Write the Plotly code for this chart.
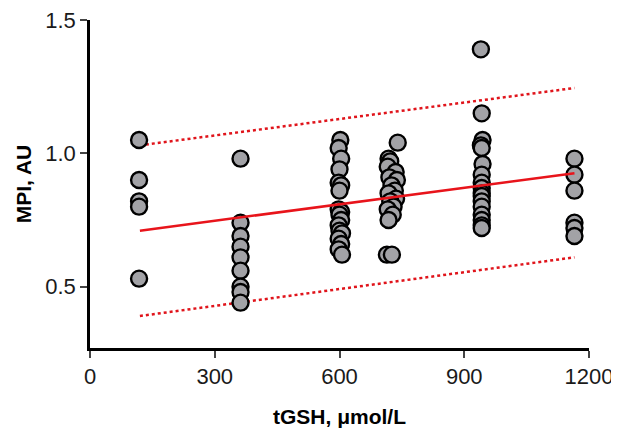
import plotly.graph_objects as go

# Data
x_c1 = [118, 118, 118, 118, 118]
y_c1 = [1.05, 0.90, 0.82, 0.80, 0.53]
x_c2 = [362, 362, 362, 362, 362, 362, 362, 362, 362]
y_c2 = [0.98, 0.74, 0.69, 0.65, 0.61, 0.56, 0.50, 0.48, 0.44]
x_c3 = [602, 598, 604, 600, 598, 604, 600, 598, 604, 600, 604, 598, 600, 606, 598, 604, 598, 606]
y_c3 = [1.05, 1.02, 0.98, 0.94, 0.89, 0.88, 0.86, 0.79, 0.78, 0.77, 0.75, 0.73, 0.71, 0.70, 0.68, 0.66, 0.64, 0.62]
x_c4 = [740, 718, 722, 716, 735, 720, 738, 725, 733, 718, 736, 722, 730, 716, 728, 718, 714, 726]
y_c4 = [1.04, 0.98, 0.97, 0.95, 0.93, 0.91, 0.90, 0.88, 0.86, 0.85, 0.83, 0.82, 0.80, 0.79, 0.77, 0.75, 0.62, 0.62]
x_c5 = [940, 942, 944, 940, 942, 944, 942, 942, 942, 942, 942, 942, 942, 942, 942, 942, 942]
y_c5 = [1.39, 1.15, 1.05, 1.03, 1.02, 0.96, 0.92, 0.89, 0.87, 0.85, 0.84, 0.82, 0.80, 0.77, 0.75, 0.73, 0.72]
x_c6 = [1165, 1165, 1165, 1165, 1165, 1165]
y_c6 = [0.98, 0.92, 0.86, 0.74, 0.72, 0.69]

fit_x = [120, 1165]
fit_y = [0.71, 0.925]
band_upper = [1.03, 1.245]
band_lower = [0.39, 0.61]

x_all = x_c1 + x_c2 + x_c3 + x_c4 + x_c5 + x_c6
y_all = y_c1 + y_c2 + y_c3 + y_c4 + y_c5 + y_c6

x_ticks = [0, 300, 600, 900, 1200]
y_ticks = [0.5, 1.0, 1.5]
y_tick_text = ["0.5", "1.0", "1.5"]

fig = go.Figure()
fig.add_trace(go.Scatter(x=fit_x, y=band_upper, mode="lines",
                         line=dict(color="#e0141b", width=2.5, dash="dot"), showlegend=False))
fig.add_trace(go.Scatter(x=fit_x, y=band_lower, mode="lines",
                         line=dict(color="#e0141b", width=2.5, dash="dot"), showlegend=False))
fig.add_trace(go.Scatter(x=x_all, y=y_all, mode="markers",
                         marker=dict(size=16, color="#a2a2a6",
                                     line=dict(color="black", width=2.4)),
                         showlegend=False))
fig.add_trace(go.Scatter(x=fit_x, y=fit_y, mode="lines",
                         line=dict(color="#e8141b", width=2.5), showlegend=False))

font_family = "Liberation Sans, Arial, sans-serif"
fig.update_layout(
    width=619, height=433,
    margin=dict(l=82, r=38, t=12, b=93, autoexpand=False),
    paper_bgcolor="white", plot_bgcolor="white",
    font=dict(family=font_family, color="black"),
)
fig.update_xaxes(
    range=[0, 1200], tickvals=x_ticks, ticks="outside", ticklen=7, tickwidth=2,
    showline=True, linecolor="black", linewidth=2.5, showgrid=False, zeroline=False,
    tickfont=dict(size=22, color="#1a1a1a"), ticklabeloverflow="allow", automargin=False,
    title=dict(text="<b>tGSH, μmol/L</b>", font=dict(size=21, color="black"), standoff=22),
)
fig.update_yaxes(
    range=[0.27, 1.5], tickvals=y_ticks, ticktext=y_tick_text, ticks="outside", ticklen=7, tickwidth=2,
    showline=True, linecolor="black", linewidth=2.5, showgrid=False, zeroline=False,
    tickfont=dict(size=22, color="#1a1a1a"), ticklabeloverflow="allow", automargin=False,
    title=dict(text="<b>MPI, AU</b>", font=dict(size=21, color="black"), standoff=8),
)
fig.write_html("out.html")
